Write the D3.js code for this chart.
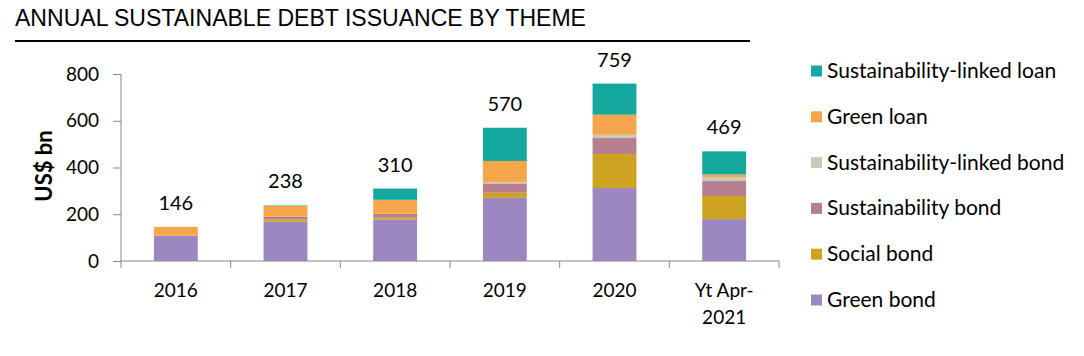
<!DOCTYPE html>
<html><head><meta charset="utf-8">
<script src="https://cdn.jsdelivr.net/npm/d3@7"></script>
<style>body{margin:0;background:#fff}svg{display:block}</style>
</head><body><svg id="c" width="1084" height="356"></svg>
<script>
const categories = ["2016","2017","2018","2019","2020","Yt Apr-2021"];
const categoryLines = [["2016"],["2017"],["2018"],["2019"],["2020"],["Yt Apr-","2021"]];
const greenBond = [107,168,178,270,312,179];
const socialBond = [0,10,9,22,146,99];
const sustainabilityBond = [1,11,15,40,68,64];
const sustLinkedBond = [0,0,0,5,14,17];
const greenLoan = [38,47,60,91,86,11];
const sustLinkedLoan = [0,2,48,142,133,99];
const totals = [146,238,310,570,759,469];
const yTicks = [0,200,400,600,800];
const seriesNames = ["Green bond","Social bond","Sustainability bond","Sustainability-linked bond","Green loan","Sustainability-linked loan"];
const seriesValues = [greenBond,socialBond,sustainabilityBond,sustLinkedBond,greenLoan,sustLinkedLoan];
const colors = ["#9D87C1","#CFA322","#B67E8E","#C6CCB7","#F5A54A","#14A89E"];

(function(){
const svg = d3.select("#c");
const font = "Lato, 'Open Sans', sans-serif";
const pl = 121, pr = 779, pt = 74, pb = 261;

const rows = categories.map((c,i)=>{const o={cat:c};seriesNames.forEach((s,j)=>o[s]=seriesValues[j][i]);return o;});
const stack = d3.stack().keys(seriesNames)(rows);

const x = d3.scaleBand().domain(categories).range([pl,pr]).paddingInner(0.6).paddingOuter(0.3);
const y = d3.scaleLinear().domain([0,800]).range([pb,pt]);

svg.append("text").attr("x",15).attr("y",26).attr("font-family","'Liberation Sans Narrow','Liberation Sans',Arial,sans-serif")
  .attr("font-size",24).attr("fill","#000").attr("textLength",571).attr("lengthAdjust","spacingAndGlyphs")
  .text("ANNUAL SUSTAINABLE DEBT ISSUANCE BY THEME");
svg.append("line").attr("x1",15).attr("x2",750).attr("y1",41).attr("y2",41).attr("stroke","#000").attr("stroke-width",2);

svg.append("g").selectAll("g").data(stack).join("g").attr("fill",(d,i)=>colors[i])
  .selectAll("rect").data(d=>d).join("rect")
  .attr("x",d=>x(d.data.cat)).attr("width",x.bandwidth())
  .attr("y",d=>y(d[1])).attr("height",d=>y(d[0])-y(d[1]));

const ya = svg.append("g").attr("transform",`translate(${pl},0)`)
  .call(d3.axisLeft(y).tickValues(yTicks).tickSize(8).tickPadding(14));
ya.select(".domain").attr("stroke","#888").attr("d",`M0,${pt}V${pb}`);
ya.selectAll(".tick line").attr("stroke","#888");
ya.selectAll("text").attr("font-family",font).attr("font-size",19).attr("fill","#000");

svg.append("line").attr("x1",pl).attr("x2",pr).attr("y1",pb).attr("y2",pb).attr("stroke","#888");
const step = x.step();
const gap = step-x.bandwidth();
const bounds = categories.map(c=>x(c)-gap/2).concat([x(categories[categories.length-1])+x.bandwidth()+gap/2]);
svg.append("g").selectAll("line").data(bounds).join("line")
  .attr("x1",d=>d).attr("x2",d=>d).attr("y1",pb).attr("y2",pb+7).attr("stroke","#888");
const xl = svg.append("g").selectAll("text").data(categories).join("text")
  .attr("y",297).attr("text-anchor","middle")
  .attr("font-family",font).attr("font-size",19).attr("fill","#000");
xl.each(function(d,i){const t=d3.select(this);categoryLines[i].forEach((l,k)=>t.append("tspan").attr("x",x(d)+x.bandwidth()/2).attr("dy",k?27:0).text(l));});

svg.append("text").attr("transform",`translate(52,166) rotate(-90)`).attr("text-anchor","middle")
  .attr("font-family",font).attr("font-size",22).attr("font-weight","bold").attr("fill","#000").text("US$ bn");

svg.append("g").selectAll("text").data(totals).join("text")
  .attr("x",(d,i)=>x(categories[i])+x.bandwidth()/2).attr("y",d=>y(d)-17).attr("text-anchor","middle")
  .attr("font-family",font).attr("font-size",20).attr("fill","#000").text(d=>d);

const leg = svg.append("g").selectAll("g").data(seriesNames.slice().reverse()).join("g")
  .attr("transform",(d,i)=>`translate(811,${71+i*45.8})`);
leg.append("rect").attr("x",0).attr("y",-5.5).attr("width",11).attr("height",11)
  .attr("fill",d=>colors[seriesNames.indexOf(d)]);
leg.append("text").attr("x",16).attr("y",7).attr("font-family",font).attr("font-size",21).attr("fill","#000").text(d=>d);
})();
</script></body></html>
